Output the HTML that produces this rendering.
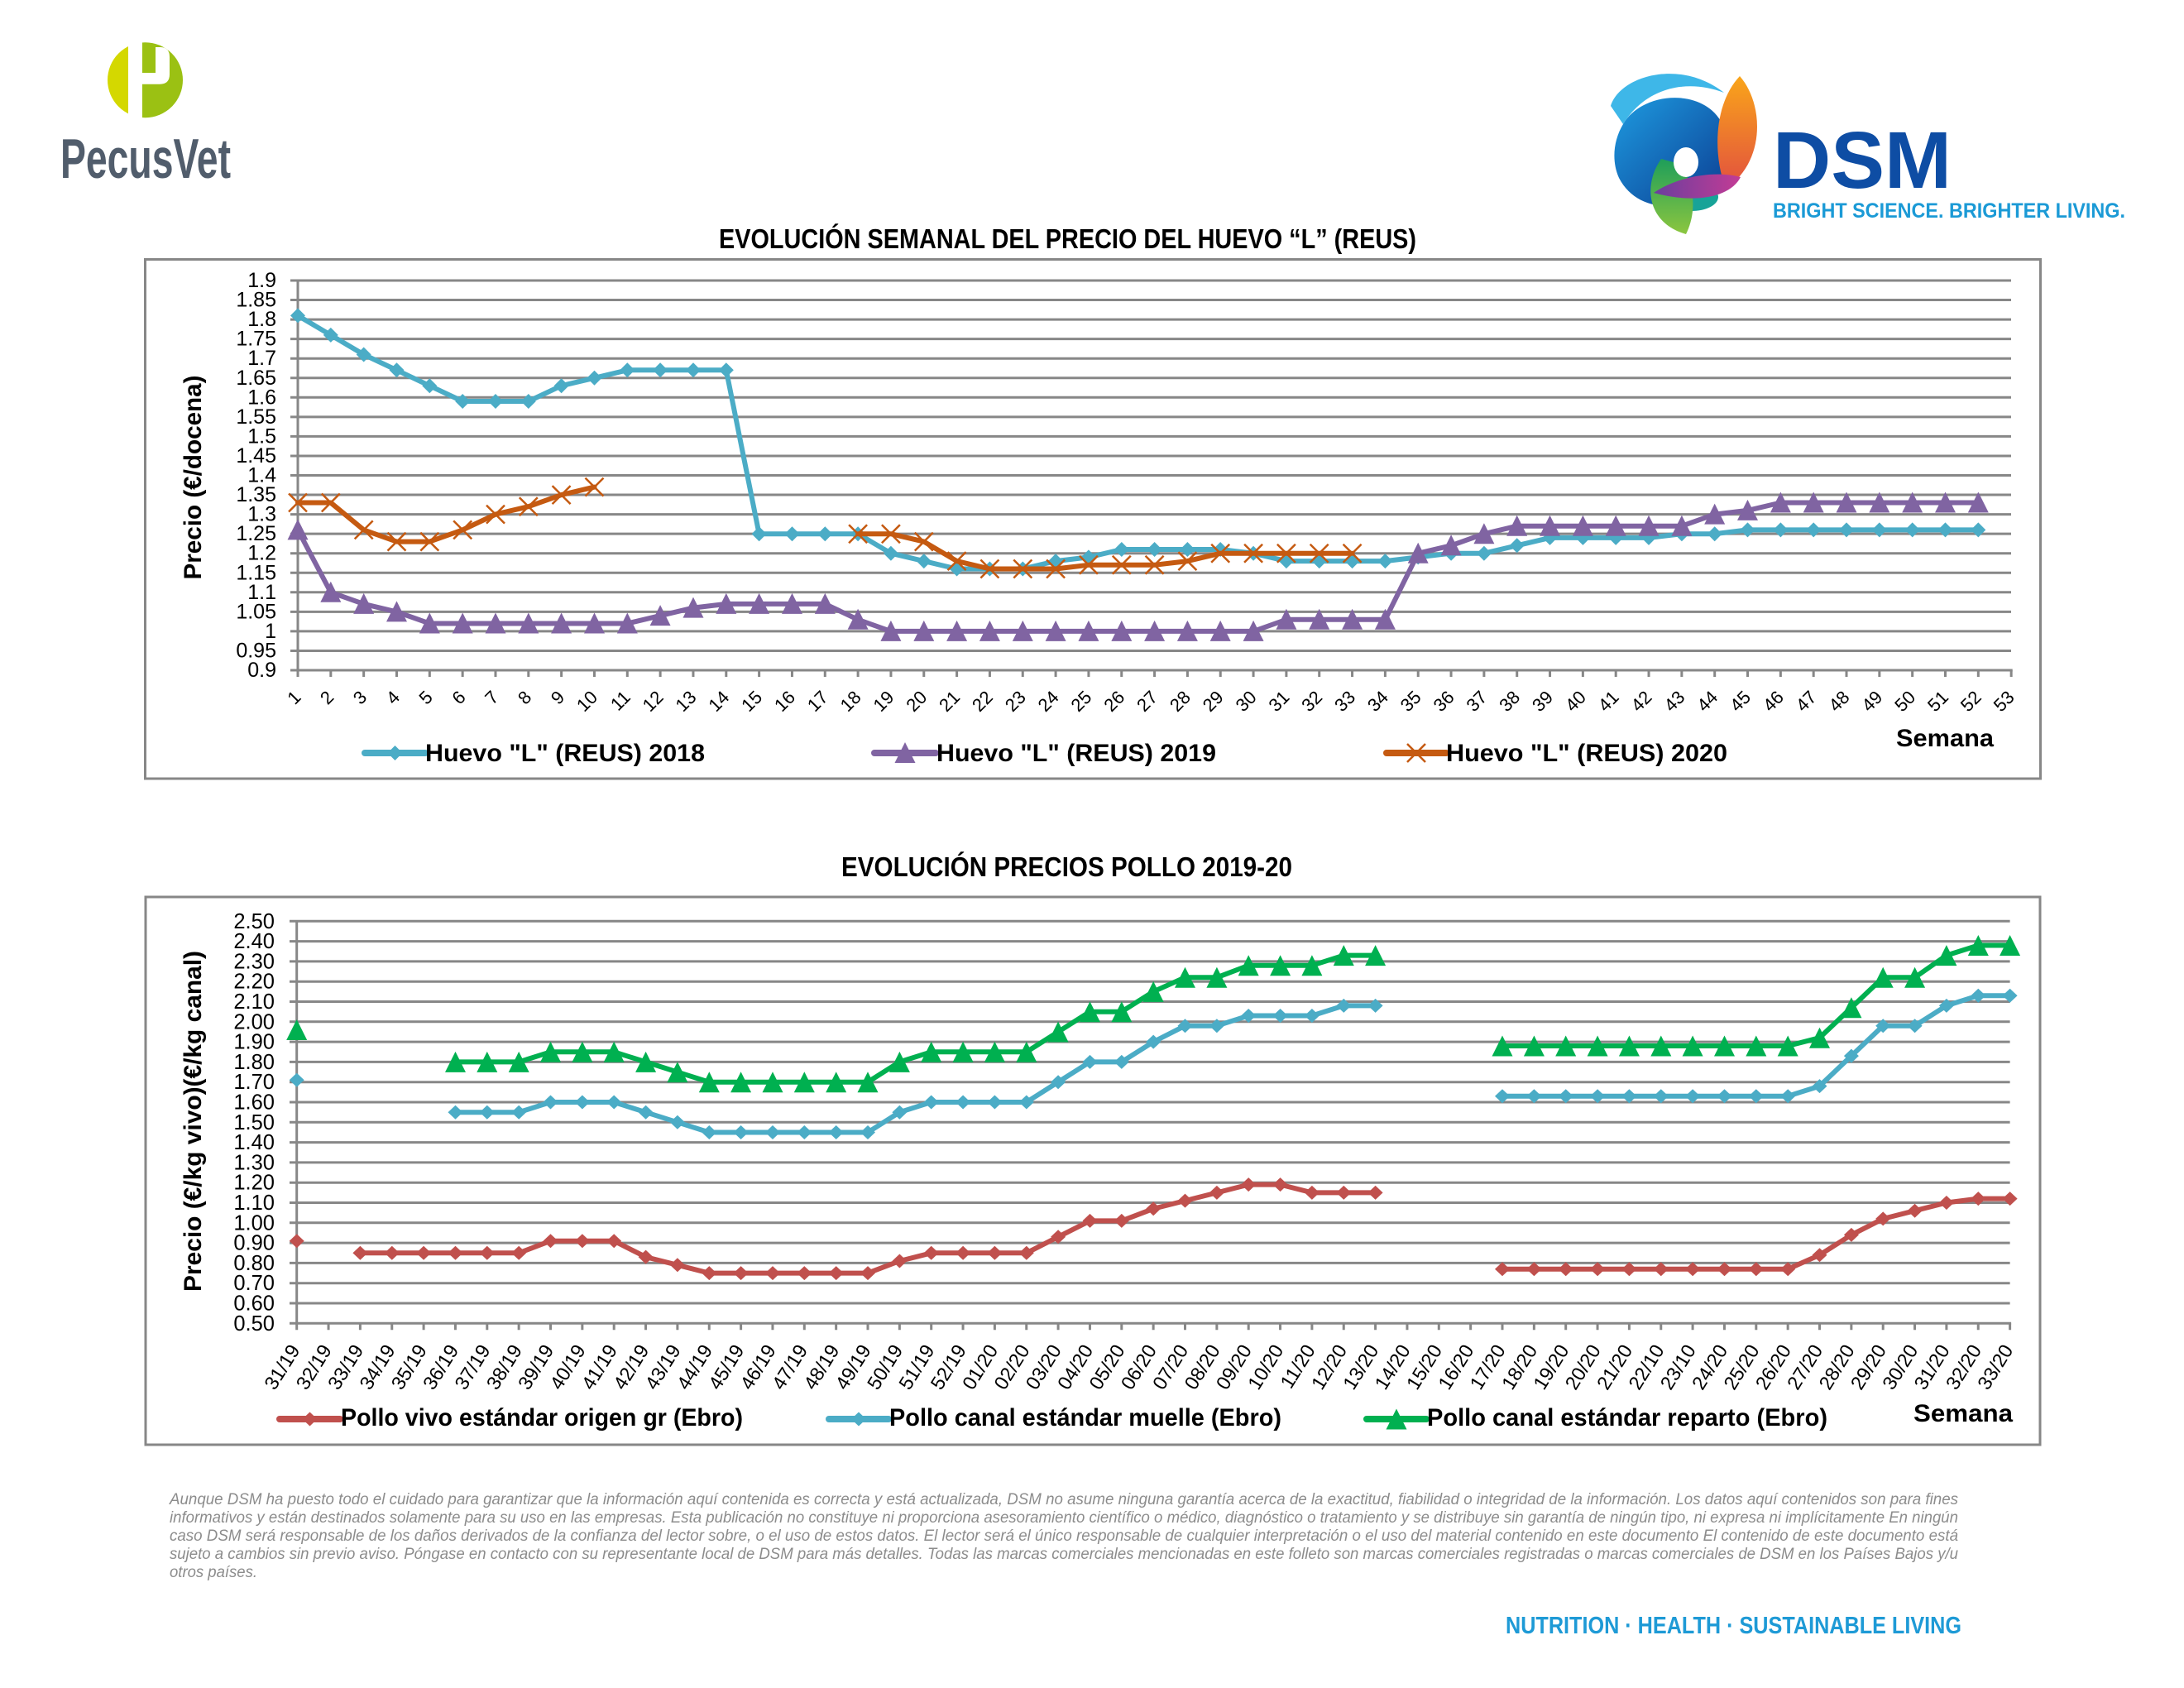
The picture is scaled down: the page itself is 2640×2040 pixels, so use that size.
<!DOCTYPE html>
<html><head><meta charset="utf-8"><style>
html,body{margin:0;padding:0;background:#fff;}
svg{display:block;}
text{font-family:"Liberation Sans",Arial,sans-serif;}
</style></head><body>
<svg width="2640" height="2040" viewBox="0 0 2640 2040" xmlns="http://www.w3.org/2000/svg">
<defs>
<marker id="mC" markerUnits="userSpaceOnUse" markerWidth="40" markerHeight="40" viewBox="-20 -20 40 40" refX="0" refY="0" orient="0"><path d="M0-9L9 0 0 9-9 0Z" fill="#4BACC6"/></marker>
<marker id="mP" markerUnits="userSpaceOnUse" markerWidth="40" markerHeight="40" viewBox="-20 -20 40 40" refX="0" refY="0" orient="0"><path d="M0-13L12.5 12-12.5 12Z" fill="#8064A2"/></marker>
<marker id="mO" markerUnits="userSpaceOnUse" markerWidth="40" markerHeight="40" viewBox="-20 -20 40 40" refX="0" refY="0" orient="0"><path d="M-11-11L11 11M-11 11L11-11" stroke="#C55A11" stroke-width="2.5" fill="none"/></marker>
<marker id="mR" markerUnits="userSpaceOnUse" markerWidth="40" markerHeight="40" viewBox="-20 -20 40 40" refX="0" refY="0" orient="0"><path d="M0-8.5L9 0 0 8.5-9 0Z" fill="#C0504D"/></marker>
<marker id="mB" markerUnits="userSpaceOnUse" markerWidth="40" markerHeight="40" viewBox="-20 -20 40 40" refX="0" refY="0" orient="0"><path d="M0-8.5L9 0 0 8.5-9 0Z" fill="#4BACC6"/></marker>
<marker id="mG" markerUnits="userSpaceOnUse" markerWidth="40" markerHeight="40" viewBox="-20 -20 40 40" refX="0" refY="0" orient="0"><path d="M0-12.5L12.5 12.5-12.5 12.5Z" fill="#00B050"/></marker>
<linearGradient id="gBlue" x1="0" y1="0" x2="1" y2="1"><stop offset="0" stop-color="#1E9BE0"/><stop offset="1" stop-color="#0B3C91"/></linearGradient>
<linearGradient id="gOr" x1="0" y1="0" x2="0" y2="1"><stop offset="0" stop-color="#F9A51A"/><stop offset="1" stop-color="#E2503F"/></linearGradient>
<linearGradient id="gGr" x1="0" y1="0" x2="0" y2="1"><stop offset="0" stop-color="#1E9E5A"/><stop offset="1" stop-color="#8CC63F"/></linearGradient>
<linearGradient id="gPu" x1="0" y1="0" x2="1" y2="0"><stop offset="0" stop-color="#6A3E9E"/><stop offset="1" stop-color="#C33C95"/></linearGradient>
<clipPath id="pc"><circle cx="175.5" cy="96.7" r="45.5"/></clipPath>
</defs>

<!-- PecusVet logo -->
<g clip-path="url(#pc)">
<rect x="128" y="50" width="27" height="95" fill="#D4D800"/>
<rect x="172" y="50" width="52" height="95" fill="#9BC113"/>
<path d="M188,57H194Q205,57 205,69V90Q205,101.7 193,101.7H172V88H188Z" fill="#fff"/>
</g>
<text x="73" y="215" font-size="68" font-weight="bold" fill="#515D6C" textLength="206" lengthAdjust="spacingAndGlyphs">PecusVet</text>

<!-- DSM logo -->
<path d="M1962,150 C1985,110 2060,105 2082,150 C2095,190 2080,235 2050,245 C2015,255 1975,250 1957,215 C1948,195 1950,170 1962,150 Z" fill="url(#gBlue)"/>
<path d="M1947,128 C1958,92 2030,70 2084,112 C2040,95 1990,105 1962,150 Z" fill="#3EB7E8"/>
<path d="M2103,92 C2132,125 2135,195 2086,228 C2070,185 2072,125 2103,92 Z" fill="url(#gOr)"/>
<ellipse cx="2045" cy="238" rx="32" ry="17" fill="#17A398"/>
<path d="M2008,192 C1985,225 1992,270 2038,283 C2052,255 2048,220 2030,198 Z" fill="url(#gGr)"/>
<path d="M1999,233 C2030,212 2075,206 2104,214 C2092,238 2050,247 1999,233 Z" fill="url(#gPu)"/>
<ellipse cx="2038" cy="196" rx="15" ry="18" fill="#fff"/>
<text x="2143" y="227" font-size="97" font-weight="bold" fill="#0E4DA4" textLength="216" lengthAdjust="spacingAndGlyphs">DSM</text>
<text x="2143" y="263" font-size="25" font-weight="bold" fill="#1B9AD6" textLength="426" lengthAdjust="spacingAndGlyphs">BRIGHT SCIENCE. BRIGHTER LIVING.</text>

<!-- ================= CHART 1 ================= -->
<text x="869" y="300" font-size="33" font-weight="bold" fill="#000" textLength="843" lengthAdjust="spacingAndGlyphs">EVOLUCIÓN SEMANAL DEL PRECIO DEL HUEVO “L” (REUS)</text>
<rect x="175.5" y="313.5" width="2291" height="627.5" fill="none" stroke="#878787" stroke-width="3"/>
<path stroke="#878787" stroke-width="3" fill="none" d="M351,339H2431M351,362.55H2431M351,386.1H2431M351,409.65H2431M351,433.2H2431M351,456.75H2431M351,480.3H2431M351,503.85H2431M351,527.4H2431M351,550.95H2431M351,574.5H2431M351,598.05H2431M351,621.6H2431M351,645.15H2431M351,668.7H2431M351,692.25H2431M351,715.8H2431M351,739.35H2431M351,762.9H2431M351,786.45H2431M351,810H2432.7M360,339V810"/>
<line x1="358.5" y1="814" x2="2433" y2="814" stroke="#878787" stroke-width="8" stroke-dasharray="3 36.83"/>
<g font-size="25" text-anchor="end" fill="#000">
<text x="334" y="347">1.9</text><text x="334" y="370.6">1.85</text><text x="334" y="394.1">1.8</text><text x="334" y="417.7">1.75</text><text x="334" y="441.2">1.7</text><text x="334" y="464.8">1.65</text><text x="334" y="488.3">1.6</text><text x="334" y="511.9">1.55</text><text x="334" y="535.4">1.5</text><text x="334" y="559">1.45</text><text x="334" y="582.5">1.4</text><text x="334" y="606.1">1.35</text><text x="334" y="629.6">1.3</text><text x="334" y="653.2">1.25</text><text x="334" y="676.7">1.2</text><text x="334" y="700.3">1.15</text><text x="334" y="723.8">1.1</text><text x="334" y="747.4">1.05</text><text x="334" y="770.9">1</text><text x="334" y="794.5">0.95</text><text x="334" y="818">0.9</text>
</g>
<g font-size="22" text-anchor="end" fill="#000">
<text transform="translate(365,844) rotate(-45)">1</text><text transform="translate(404.8,844) rotate(-45)">2</text><text transform="translate(444.7,844) rotate(-45)">3</text><text transform="translate(484.5,844) rotate(-45)">4</text><text transform="translate(524.3,844) rotate(-45)">5</text><text transform="translate(564.2,844) rotate(-45)">6</text><text transform="translate(604,844) rotate(-45)">7</text><text transform="translate(643.8,844) rotate(-45)">8</text><text transform="translate(683.6,844) rotate(-45)">9</text><text transform="translate(723.5,844) rotate(-45)">10</text><text transform="translate(763.3,844) rotate(-45)">11</text><text transform="translate(803.1,844) rotate(-45)">12</text><text transform="translate(843,844) rotate(-45)">13</text><text transform="translate(882.8,844) rotate(-45)">14</text><text transform="translate(922.6,844) rotate(-45)">15</text><text transform="translate(962.5,844) rotate(-45)">16</text><text transform="translate(1002.3,844) rotate(-45)">17</text><text transform="translate(1042.1,844) rotate(-45)">18</text><text transform="translate(1081.9,844) rotate(-45)">19</text><text transform="translate(1121.8,844) rotate(-45)">20</text><text transform="translate(1161.6,844) rotate(-45)">21</text><text transform="translate(1201.4,844) rotate(-45)">22</text><text transform="translate(1241.3,844) rotate(-45)">23</text><text transform="translate(1281.1,844) rotate(-45)">24</text><text transform="translate(1320.9,844) rotate(-45)">25</text><text transform="translate(1360.8,844) rotate(-45)">26</text><text transform="translate(1400.6,844) rotate(-45)">27</text><text transform="translate(1440.4,844) rotate(-45)">28</text><text transform="translate(1480.2,844) rotate(-45)">29</text><text transform="translate(1520.1,844) rotate(-45)">30</text><text transform="translate(1559.9,844) rotate(-45)">31</text><text transform="translate(1599.7,844) rotate(-45)">32</text><text transform="translate(1639.6,844) rotate(-45)">33</text><text transform="translate(1679.4,844) rotate(-45)">34</text><text transform="translate(1719.2,844) rotate(-45)">35</text><text transform="translate(1759.1,844) rotate(-45)">36</text><text transform="translate(1798.9,844) rotate(-45)">37</text><text transform="translate(1838.7,844) rotate(-45)">38</text><text transform="translate(1878.5,844) rotate(-45)">39</text><text transform="translate(1918.4,844) rotate(-45)">40</text><text transform="translate(1958.2,844) rotate(-45)">41</text><text transform="translate(1998,844) rotate(-45)">42</text><text transform="translate(2037.9,844) rotate(-45)">43</text><text transform="translate(2077.7,844) rotate(-45)">44</text><text transform="translate(2117.5,844) rotate(-45)">45</text><text transform="translate(2157.4,844) rotate(-45)">46</text><text transform="translate(2197.2,844) rotate(-45)">47</text><text transform="translate(2237,844) rotate(-45)">48</text><text transform="translate(2276.8,844) rotate(-45)">49</text><text transform="translate(2316.7,844) rotate(-45)">50</text><text transform="translate(2356.5,844) rotate(-45)">51</text><text transform="translate(2396.3,844) rotate(-45)">52</text><text transform="translate(2436.2,844) rotate(-45)">53</text>
</g>
<text transform="translate(243,577) rotate(-90)" text-anchor="middle" font-size="30" font-weight="bold" fill="#000" textLength="247" lengthAdjust="spacingAndGlyphs">Precio (€/docena)</text>

<g fill="none" stroke-width="6" stroke-linejoin="round" stroke-linecap="round">
<polyline stroke="#4BACC6" marker-start="url(#mC)" marker-mid="url(#mC)" marker-end="url(#mC)" points="360,381.4 399.8,404.9 439.7,428.5 479.5,447.3 519.3,466.2 559.2,485 599,485 638.8,485 678.6,466.2 718.5,456.8 758.3,447.3 798.1,447.3 838,447.3 877.8,447.3 917.6,645.2 957.5,645.2 997.3,645.2 1037.1,645.2 1076.9,668.7 1116.8,678.1 1156.6,687.5 1196.4,687.5 1236.3,687.5 1276.1,678.1 1315.9,673.4 1355.8,664 1395.6,664 1435.4,664 1475.2,664 1515.1,668.7 1554.9,678.1 1594.7,678.1 1634.6,678.1 1674.4,678.1 1714.2,673.4 1754.1,668.7 1793.9,668.7 1833.7,659.3 1873.5,649.9 1913.4,649.9 1953.2,649.9 1993,649.9 2032.9,645.2 2072.7,645.2 2112.5,640.4 2152.4,640.4 2192.2,640.4 2232,640.4 2271.8,640.4 2311.7,640.4 2351.5,640.4 2391.3,640.4"/>
<polyline stroke="#8064A2" marker-start="url(#mP)" marker-mid="url(#mP)" marker-end="url(#mP)" points="360,640.4 399.8,715.8 439.7,729.9 479.5,739.4 519.3,753.5 559.2,753.5 599,753.5 638.8,753.5 678.6,753.5 718.5,753.5 758.3,753.5 798.1,744.1 838,734.6 877.8,729.9 917.6,729.9 957.5,729.9 997.3,729.9 1037.1,748.8 1076.9,762.9 1116.8,762.9 1156.6,762.9 1196.4,762.9 1236.3,762.9 1276.1,762.9 1315.9,762.9 1355.8,762.9 1395.6,762.9 1435.4,762.9 1475.2,762.9 1515.1,762.9 1554.9,748.8 1594.7,748.8 1634.6,748.8 1674.4,748.8 1714.2,668.7 1754.1,659.3 1793.9,645.2 1833.7,635.7 1873.5,635.7 1913.4,635.7 1953.2,635.7 1993,635.7 2032.9,635.7 2072.7,621.6 2112.5,616.9 2152.4,607.5 2192.2,607.5 2232,607.5 2271.8,607.5 2311.7,607.5 2351.5,607.5 2391.3,607.5"/>
<polyline stroke="#C55A11" marker-start="url(#mO)" marker-mid="url(#mO)" marker-end="url(#mO)" points="360,607.5 399.8,607.5 439.7,640.4 479.5,654.6 519.3,654.6 559.2,640.4 599,621.6 638.8,612.2 678.6,598.1 718.5,588.6"/>
<polyline stroke="#C55A11" marker-start="url(#mO)" marker-mid="url(#mO)" marker-end="url(#mO)" points="1037.1,645.2 1076.9,645.2 1116.8,654.6 1156.6,678.1 1196.4,687.5 1236.3,687.5 1276.1,687.5 1315.9,682.8 1355.8,682.8 1395.6,682.8 1435.4,678.1 1475.2,668.7 1515.1,668.7 1554.9,668.7 1594.7,668.7 1634.6,668.7"/>
</g>

<!-- legend 1 -->
<g fill="none" stroke-width="8" stroke-linecap="round">
<polyline stroke="#4BACC6" marker-mid="url(#mC)" points="441,910 477.5,910 514,910"/>
<polyline stroke="#8064A2" marker-mid="url(#mP)" points="1057,910 1094,910 1131,910"/>
<polyline stroke="#C55A11" marker-mid="url(#mO)" points="1676,910 1712,910 1748,910"/>
</g>
<g font-size="30" font-weight="bold" fill="#000">
<text x="514" y="920" textLength="338" lengthAdjust="spacingAndGlyphs">Huevo "L" (REUS) 2018</text>
<text x="1132" y="920" textLength="338" lengthAdjust="spacingAndGlyphs">Huevo "L" (REUS) 2019</text>
<text x="1748" y="920" textLength="340" lengthAdjust="spacingAndGlyphs">Huevo "L" (REUS) 2020</text>
<text x="2292" y="902" textLength="118" lengthAdjust="spacingAndGlyphs">Semana</text>
</g>

<!-- ================= CHART 2 ================= -->
<text x="1017" y="1059" font-size="33" font-weight="bold" fill="#000" textLength="545" lengthAdjust="spacingAndGlyphs">EVOLUCIÓN PRECIOS POLLO 2019-20</text>
<rect x="176" y="1084" width="2290" height="662" fill="none" stroke="#878787" stroke-width="3"/>
<path stroke="#878787" stroke-width="3" fill="none" d="M350,1113.3H2429.6M350,1137.6H2429.6M350,1161.9H2429.6M350,1186.2H2429.6M350,1210.5H2429.6M350,1234.8H2429.6M350,1259.1H2429.6M350,1283.4H2429.6M350,1307.7H2429.6M350,1332H2429.6M350,1356.3H2429.6M350,1380.6H2429.6M350,1404.9H2429.6M350,1429.2H2429.6M350,1453.5H2429.6M350,1477.8H2429.6M350,1502.1H2429.6M350,1526.4H2429.6M350,1550.7H2429.6M350,1575H2429.6M350,1599.3H2431.1M358.7,1113.3V1599.3"/>
<line x1="357.2" y1="1603.3" x2="2431.5" y2="1603.3" stroke="#878787" stroke-width="8" stroke-dasharray="3 35.35"/>
<g font-size="25.5" text-anchor="end" fill="#000">
<text x="332" y="1121.8">2.50</text><text x="332" y="1146.1">2.40</text><text x="332" y="1170.4">2.30</text><text x="332" y="1194.7">2.20</text><text x="332" y="1219">2.10</text><text x="332" y="1243.3">2.00</text><text x="332" y="1267.6">1.90</text><text x="332" y="1291.9">1.80</text><text x="332" y="1316.2">1.70</text><text x="332" y="1340.5">1.60</text><text x="332" y="1364.8">1.50</text><text x="332" y="1389.1">1.40</text><text x="332" y="1413.4">1.30</text><text x="332" y="1437.7">1.20</text><text x="332" y="1462">1.10</text><text x="332" y="1486.3">1.00</text><text x="332" y="1510.6">0.90</text><text x="332" y="1534.9">0.80</text><text x="332" y="1559.2">0.70</text><text x="332" y="1583.5">0.60</text><text x="332" y="1607.8">0.50</text>
</g>
<g font-size="23.5" text-anchor="end" fill="#000">
<text transform="translate(363.3,1631.4) rotate(-58)">31/19</text><text transform="translate(401.7,1631.4) rotate(-58)">32/19</text><text transform="translate(440,1631.4) rotate(-58)">33/19</text><text transform="translate(478.4,1631.4) rotate(-58)">34/19</text><text transform="translate(516.7,1631.4) rotate(-58)">35/19</text><text transform="translate(555.1,1631.4) rotate(-58)">36/19</text><text transform="translate(593.4,1631.4) rotate(-58)">37/19</text><text transform="translate(631.8,1631.4) rotate(-58)">38/19</text><text transform="translate(670.1,1631.4) rotate(-58)">39/19</text><text transform="translate(708.5,1631.4) rotate(-58)">40/19</text><text transform="translate(746.8,1631.4) rotate(-58)">41/19</text><text transform="translate(785.2,1631.4) rotate(-58)">42/19</text><text transform="translate(823.5,1631.4) rotate(-58)">43/19</text><text transform="translate(861.9,1631.4) rotate(-58)">44/19</text><text transform="translate(900.2,1631.4) rotate(-58)">45/19</text><text transform="translate(938.6,1631.4) rotate(-58)">46/19</text><text transform="translate(976.9,1631.4) rotate(-58)">47/19</text><text transform="translate(1015.3,1631.4) rotate(-58)">48/19</text><text transform="translate(1053.6,1631.4) rotate(-58)">49/19</text><text transform="translate(1092,1631.4) rotate(-58)">50/19</text><text transform="translate(1130.3,1631.4) rotate(-58)">51/19</text><text transform="translate(1168.7,1631.4) rotate(-58)">52/19</text><text transform="translate(1207,1631.4) rotate(-58)">01/20</text><text transform="translate(1245.4,1631.4) rotate(-58)">02/20</text><text transform="translate(1283.7,1631.4) rotate(-58)">03/20</text><text transform="translate(1322.1,1631.4) rotate(-58)">04/20</text><text transform="translate(1360.4,1631.4) rotate(-58)">05/20</text><text transform="translate(1398.8,1631.4) rotate(-58)">06/20</text><text transform="translate(1437.1,1631.4) rotate(-58)">07/20</text><text transform="translate(1475.5,1631.4) rotate(-58)">08/20</text><text transform="translate(1513.8,1631.4) rotate(-58)">09/20</text><text transform="translate(1552.2,1631.4) rotate(-58)">10/20</text><text transform="translate(1590.5,1631.4) rotate(-58)">11/20</text><text transform="translate(1628.9,1631.4) rotate(-58)">12/20</text><text transform="translate(1667.2,1631.4) rotate(-58)">13/20</text><text transform="translate(1705.6,1631.4) rotate(-58)">14/20</text><text transform="translate(1743.9,1631.4) rotate(-58)">15/20</text><text transform="translate(1782.3,1631.4) rotate(-58)">16/20</text><text transform="translate(1820.6,1631.4) rotate(-58)">17/20</text><text transform="translate(1859,1631.4) rotate(-58)">18/20</text><text transform="translate(1897.3,1631.4) rotate(-58)">19/20</text><text transform="translate(1935.7,1631.4) rotate(-58)">20/20</text><text transform="translate(1974,1631.4) rotate(-58)">21/20</text><text transform="translate(2012.4,1631.4) rotate(-58)">22/10</text><text transform="translate(2050.7,1631.4) rotate(-58)">23/10</text><text transform="translate(2089.1,1631.4) rotate(-58)">24/20</text><text transform="translate(2127.4,1631.4) rotate(-58)">25/20</text><text transform="translate(2165.8,1631.4) rotate(-58)">26/20</text><text transform="translate(2204.1,1631.4) rotate(-58)">27/20</text><text transform="translate(2242.5,1631.4) rotate(-58)">28/20</text><text transform="translate(2280.8,1631.4) rotate(-58)">29/20</text><text transform="translate(2319.2,1631.4) rotate(-58)">30/20</text><text transform="translate(2357.5,1631.4) rotate(-58)">31/20</text><text transform="translate(2395.9,1631.4) rotate(-58)">32/20</text><text transform="translate(2434.2,1631.4) rotate(-58)">33/20</text>
</g>
<text transform="translate(243,1355) rotate(-90)" text-anchor="middle" font-size="30" font-weight="bold" fill="#000" textLength="412" lengthAdjust="spacingAndGlyphs">Precio (€/kg vivo)(€/kg canal)</text>

<g fill="none" stroke-width="6" stroke-linejoin="round" stroke-linecap="round">
<polyline stroke="#C0504D" marker-start="url(#mR)" marker-mid="url(#mR)" marker-end="url(#mR)" points="435.4,1514.3 473.8,1514.3 512.1,1514.3 550.5,1514.3 588.8,1514.3 627.2,1514.3 665.5,1499.7 703.9,1499.7 742.2,1499.7 780.6,1519.1 818.9,1528.8 857.3,1538.6 895.6,1538.6 934,1538.6 972.3,1538.6 1010.7,1538.6 1049,1538.6 1087.4,1524 1125.7,1514.3 1164.1,1514.3 1202.4,1514.3 1240.8,1514.3 1279.1,1494.8 1317.5,1475.4 1355.8,1475.4 1394.2,1460.8 1432.5,1451.1 1470.9,1441.4 1509.2,1431.6 1547.6,1431.6 1585.9,1441.4 1624.3,1441.4 1662.6,1441.4"/>
<polyline stroke="#C0504D" marker-start="url(#mR)" marker-mid="url(#mR)" marker-end="url(#mR)" points="1816,1533.7 1854.4,1533.7 1892.7,1533.7 1931.1,1533.7 1969.4,1533.7 2007.8,1533.7 2046.1,1533.7 2084.5,1533.7 2122.8,1533.7 2161.2,1533.7 2199.5,1516.7 2237.9,1492.4 2276.2,1472.9 2314.6,1463.2 2352.9,1453.5 2391.3,1448.6 2429.6,1448.6"/>
<polyline stroke="#4BACC6" marker-start="url(#mB)" marker-mid="url(#mB)" marker-end="url(#mB)" points="550.5,1344.2 588.8,1344.2 627.2,1344.2 665.5,1332 703.9,1332 742.2,1332 780.6,1344.2 818.9,1356.3 857.3,1368.5 895.6,1368.5 934,1368.5 972.3,1368.5 1010.7,1368.5 1049,1368.5 1087.4,1344.2 1125.7,1332 1164.1,1332 1202.4,1332 1240.8,1332 1279.1,1307.7 1317.5,1283.4 1355.8,1283.4 1394.2,1259.1 1432.5,1239.7 1470.9,1239.7 1509.2,1227.5 1547.6,1227.5 1585.9,1227.5 1624.3,1215.4 1662.6,1215.4"/>
<polyline stroke="#4BACC6" marker-start="url(#mB)" marker-mid="url(#mB)" marker-end="url(#mB)" points="1816,1324.7 1854.4,1324.7 1892.7,1324.7 1931.1,1324.7 1969.4,1324.7 2007.8,1324.7 2046.1,1324.7 2084.5,1324.7 2122.8,1324.7 2161.2,1324.7 2199.5,1312.6 2237.9,1276.1 2276.2,1239.7 2314.6,1239.7 2352.9,1215.4 2391.3,1203.2 2429.6,1203.2"/>
<polyline stroke="#00B050" marker-start="url(#mG)" marker-mid="url(#mG)" marker-end="url(#mG)" points="550.5,1283.4 588.8,1283.4 627.2,1283.4 665.5,1271.3 703.9,1271.3 742.2,1271.3 780.6,1283.4 818.9,1295.6 857.3,1307.7 895.6,1307.7 934,1307.7 972.3,1307.7 1010.7,1307.7 1049,1307.7 1087.4,1283.4 1125.7,1271.3 1164.1,1271.3 1202.4,1271.3 1240.8,1271.3 1279.1,1247 1317.5,1222.7 1355.8,1222.7 1394.2,1198.4 1432.5,1181.3 1470.9,1181.3 1509.2,1166.8 1547.6,1166.8 1585.9,1166.8 1624.3,1154.6 1662.6,1154.6"/>
<polyline stroke="#00B050" marker-start="url(#mG)" marker-mid="url(#mG)" marker-end="url(#mG)" points="1816,1264 1854.4,1264 1892.7,1264 1931.1,1264 1969.4,1264 2007.8,1264 2046.1,1264 2084.5,1264 2122.8,1264 2161.2,1264 2199.5,1254.2 2237.9,1217.8 2276.2,1181.3 2314.6,1181.3 2352.9,1154.6 2391.3,1142.5 2429.6,1142.5"/>
</g>
<!-- isolated first points -->
<path d="M358.7,1491.2L367.7,1499.7 358.7,1508.2 349.7,1499.7Z" fill="#C0504D"/>
<path d="M358.7,1296.8L367.7,1305.3 358.7,1313.8 349.7,1305.3Z" fill="#4BACC6"/>
<path d="M358.7,1232L371.2,1257 346.2,1257Z" fill="#00B050"/>

<!-- legend 2 -->
<g fill="none" stroke-width="8" stroke-linecap="round">
<polyline stroke="#C0504D" marker-mid="url(#mR)" points="338,1715 374.5,1715 411,1715"/>
<polyline stroke="#4BACC6" marker-mid="url(#mB)" points="1002,1715 1038,1715 1074,1715"/>
<polyline stroke="#00B050" marker-mid="url(#mG)" points="1652,1715 1688,1715 1724,1715"/>
</g>
<g font-size="30" font-weight="bold" fill="#000">
<text x="412" y="1723" textLength="486" lengthAdjust="spacingAndGlyphs">Pollo vivo estándar origen gr (Ebro)</text>
<text x="1075" y="1723" textLength="474" lengthAdjust="spacingAndGlyphs">Pollo canal estándar muelle (Ebro)</text>
<text x="1725" y="1723" textLength="484" lengthAdjust="spacingAndGlyphs">Pollo canal estándar reparto (Ebro)</text>
<text x="2313" y="1718" textLength="120" lengthAdjust="spacingAndGlyphs">Semana</text>
</g>

<!-- footer -->
<g font-size="19" font-style="italic" fill="#8C8C8C">
<text x="205" y="1818" textLength="2162" lengthAdjust="spacingAndGlyphs">Aunque DSM ha puesto todo el cuidado para garantizar que la información aquí contenida es correcta y está actualizada, DSM no asume ninguna garantía acerca de la exactitud, fiabilidad o integridad de la información. Los datos aquí contenidos son para fines</text>
<text x="205" y="1840" textLength="2162" lengthAdjust="spacingAndGlyphs">informativos y están destinados solamente para su uso en las empresas. Esta publicación no constituye ni proporciona asesoramiento científico o médico, diagnóstico o tratamiento y se distribuye sin garantía de ningún tipo, ni expresa ni implícitamente En ningún</text>
<text x="205" y="1862" textLength="2162" lengthAdjust="spacingAndGlyphs">caso DSM será responsable de los daños derivados de la confianza del lector sobre, o el uso de estos datos. El lector será el único responsable de cualquier interpretación o el uso del material contenido en este documento El contenido de este documento está</text>
<text x="205" y="1884" textLength="2162" lengthAdjust="spacingAndGlyphs">sujeto a cambios sin previo aviso. Póngase en contacto con su representante local de DSM para más detalles. Todas las marcas comerciales mencionadas en este folleto son marcas comerciales registradas o marcas comerciales de DSM en los Países Bajos y/u</text>
<text x="205" y="1906" textLength="106" lengthAdjust="spacingAndGlyphs">otros países.</text>
</g>
<text x="1820" y="1974" font-size="29" font-weight="bold" fill="#1E9AD6" textLength="551" lengthAdjust="spacingAndGlyphs">NUTRITION · HEALTH · SUSTAINABLE LIVING</text>
</svg>
</body></html>
